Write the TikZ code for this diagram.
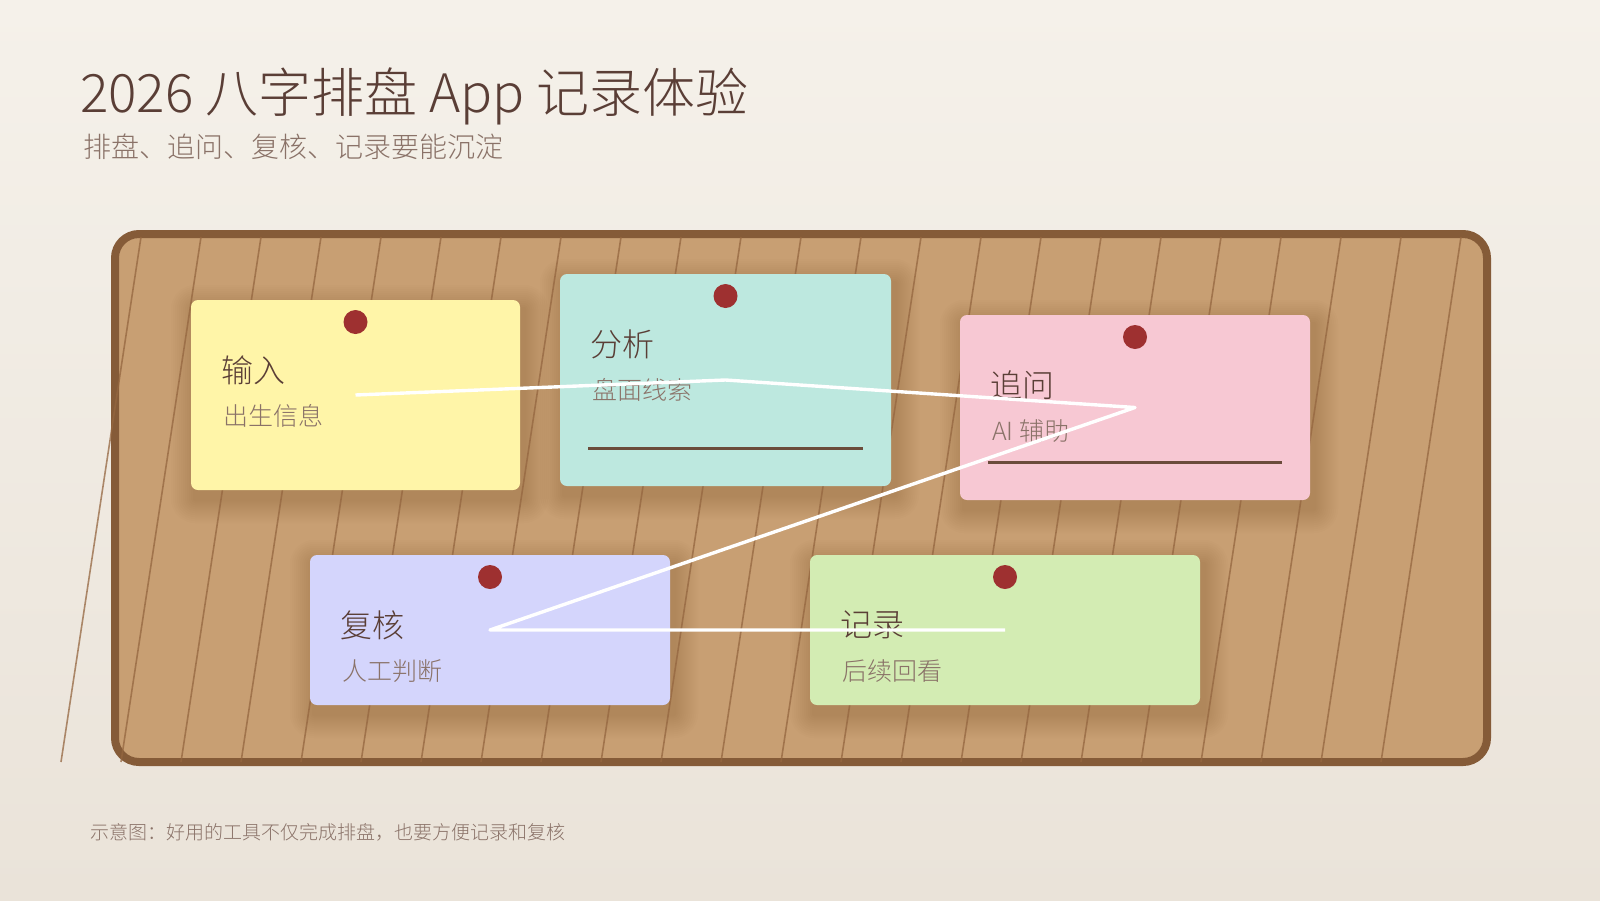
\documentclass[tikz,border=0pt]{standalone}
\usepackage{fontspec}
\IfFontExistsTF{Noto Sans CJK SC Light}
  {\setmainfont{Noto Sans CJK SC Light}}
  {\IfFontExistsTF{Noto Sans CJK SC DemiLight}
    {\setmainfont{Noto Sans CJK SC DemiLight}}
    {\setmainfont{Noto Sans CJK SC}}}
\usetikzlibrary{backgrounds}
\definecolor{paperTop}{HTML}{F5F1EA}
\definecolor{paperBot}{HTML}{EAE3D9}
\definecolor{boardFill}{HTML}{C89F73}
\definecolor{boardEdge}{HTML}{855B38}
\definecolor{grain}{HTML}{946640}
\definecolor{shadowInk}{HTML}{4A2E18}
\definecolor{inkDark}{HTML}{5A3E36}
\definecolor{inkSoft}{HTML}{8A7268}
\definecolor{pinRed}{HTML}{9E3030}
\definecolor{ruleBrown}{HTML}{6B4C3B}
\definecolor{noteYellow}{HTML}{FFF5A8}
\definecolor{noteTeal}{HTML}{BDE8DF}
\definecolor{notePink}{HTML}{F7C8D3}
\definecolor{noteLilac}{HTML}{D4D5FC}
\definecolor{noteGreen}{HTML}{D3ECB3}
\tikzset{
  note/.style={fill=#1, rounded corners=7pt, inner sep=0pt, outer sep=0pt},
  notetitle/.style={anchor=west, inner sep=0pt, text=inkDark, font=\fontsize{32}{36}\selectfont},
  notesub/.style={anchor=west, inner sep=0pt, text=inkSoft, font=\fontsize{25}{30}\selectfont},
  pin/.style={fill=pinRed},
  noterule/.style={draw=ruleBrown, line width=3pt},
  string/.style={draw=white, line width=3.4pt, line join=round}
}
\newcommand\notelabels[3]{%
  \node[notetitle] (#1-title) at ([xshift=30pt,yshift=-70pt]#1.north west) {#2};
  \node[notesub] (#1-sub) at ([xshift=32pt,yshift=-116pt]#1.north west) {#3};
  \fill[pin] ([yshift=-22pt]#1.north) circle (12pt);
}

\begin{document}
\begin{tikzpicture}[x=1pt, y=-1pt]
\useasboundingbox (0,0) rectangle (1600,900);
\node[note=noteYellow, minimum width=329pt, minimum height=190pt] (inp) at (355.5,395) {};
\node[note=noteTeal, minimum width=331pt, minimum height=212pt] (ana) at (725.5,380) {};
\node[note=notePink, minimum width=350pt, minimum height=185pt] (ask) at (1135,407.5) {};
\node[note=noteLilac, minimum width=360pt, minimum height=150pt] (rev) at (490,630) {};
\node[note=noteGreen, minimum width=390pt, minimum height=150pt] (rec) at (1005,630) {};
\begin{scope}[on background layer]
\shade[top color=paperTop, bottom color=paperBot] (0,0) rectangle (1600,900);
\draw[boardEdge, line width=8pt, fill=boardFill, rounded corners=24pt] (115,234) rectangle (1487,762);
\foreach \n in {inp,ana,ask,rev,rec}
  \foreach \d [evaluate=\d as \rad using 7+\d] in {2,4,...,24}
    \fill[shadowInk, opacity=.016, rounded corners=\rad pt]
      ([shift={(4-\d,9-\d)}]\n.north west) rectangle ([shift={(4+\d,9+\d)}]\n.south east);
\foreach \k in {0,...,22}
  \draw[grain, opacity=.75, line width=1.6pt] (141+60*\k,237) -- (61+60*\k,762);
\end{scope}
\notelabels{inp}{输入}{出生信息}
\notelabels{ana}{分析}{盘面线索}
\notelabels{ask}{追问}{AI 辅助}
\notelabels{rev}{复核}{人工判断}
\notelabels{rec}{记录}{后续回看}
\draw[noterule] ([xshift=28pt,yshift=38pt]ana.south west) -- ([xshift=-28pt,yshift=38pt]ana.south east);
\draw[noterule] ([xshift=28pt,yshift=38pt]ask.south west) -- ([xshift=-28pt,yshift=38pt]ask.south east);
\draw[string] (inp.center) -- (ana.center) -- (ask.center) -- (rev.center) -- (rec.center);
\node[anchor=base west, inner sep=0pt, text=inkDark, font=\fontsize{53}{60}\selectfont] (title) at (80,112) {2026 八字排盘 App 记录体验};
\node[anchor=west, inner sep=0pt, text=inkSoft, font=\fontsize{28}{32}\selectfont] (subtitle) at (83,147) {排盘、追问、复核、记录要能沉淀};
\node[anchor=west, inner sep=0pt, text=inkSoft, font=\fontsize{19}{22}\selectfont] (footer) at (90,832) {示意图：好用的工具不仅完成排盘，也要方便记录和复核};
\end{tikzpicture}
\end{document}
